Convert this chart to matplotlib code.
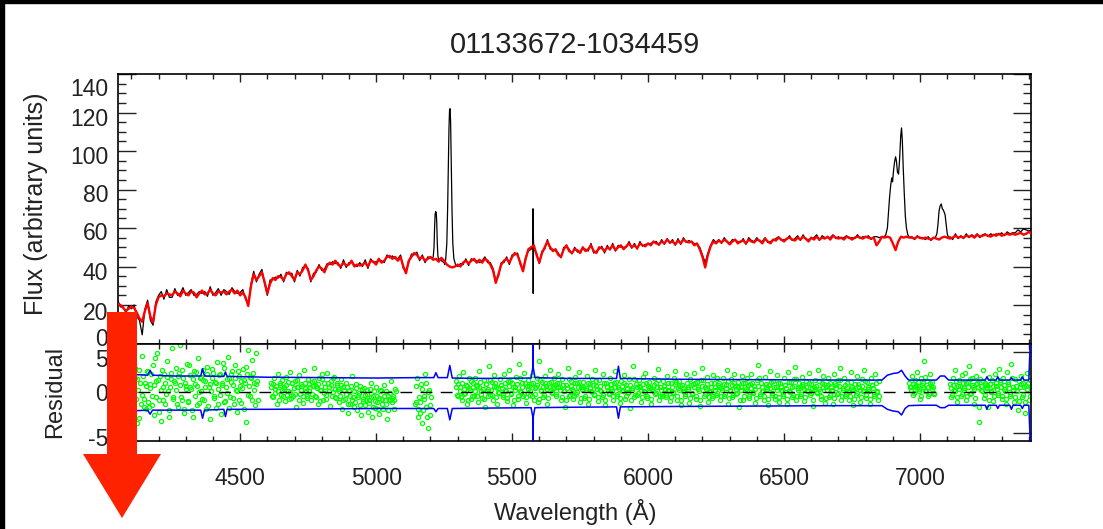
import numpy as np
import matplotlib
matplotlib.use('Agg')
import matplotlib.pyplot as plt
import matplotlib.transforms as mtransforms
from matplotlib.patches import Polygon, Rectangle
from matplotlib.ticker import MultipleLocator

plt.rcParams['font.family'] = ['Liberation Sans', 'DejaVu Sans']

na = np.nan
W, H = 1103, 529

# --- spectrum on a 10 A grid starting at 4050 A ---
wave_start, wave_step = 4050, 10
model_flux = [
    20.5, 20, 18.5, 17, 18, 19, 18.5, 16, 13, 11.3,
    17, 21, 14, 11, 20, 24, 25, 24.5, 26, 25.5,
    25, 27, 26, 24.5, 27.5, 26, 25, 27, 26.5, 24,
    26, 27.5, 25.5, 26, 28, 26, 25, 27, 26.5, 27,
    25.5, 27, 28, 26, 27.5, 25, 26.5, 24, 19.5, 30,
    36, 33, 35, 37, 32, 26, 31, 34, 33, 35,
    34.5, 33, 36, 37, 35, 33, 37, 36, 38, 41,
    38, 33, 35, 38, 40, 39, 37, 40.5, 42, 41,
    43, 41, 40, 42, 40.5, 41, 43, 40, 41, 40.5,
    41, 42, 40, 43, 42.5, 41, 44, 42, 43, 45,
    45.5, 44, 45, 43, 45, 40, 36.5, 43, 45, 47,
    46, 44, 45, 43, 44, 45, 43.5, 44, 42.5, 44.5,
    43, 41, 40, 39.5, 40, 41, 40, 42, 43, 41.5,
    43, 44, 42, 43.5, 42, 44, 43, 41, 38, 31.5,
    36, 41, 43, 44, 42, 45, 47, 46, 42, 37.5,
    44, 49, 50, 51, 46, 42, 47, 50, 53, 50,
    48, 49, 46, 45, 49, 51, 48, 47, 49, 48.5,
    47, 50, 48, 49, 51, 48, 47, 50, 49.5, 48,
    50, 49, 51, 48.5, 50, 51, 49, 50.5, 52, 50,
    51, 49.5, 52, 51, 50.5, 52, 51, 53, 52, 51.5,
    53, 52, 54, 52.5, 53, 51.5, 53.5, 52, 54, 53,
    52.5, 53, 51, 52, 49, 45, 39.5, 46, 50.5, 53,
    52, 53.5, 52.5, 54, 53, 51.5, 53, 54, 52, 53,
    53.5, 52, 54, 53, 52.5, 54, 53.5, 52, 54.5, 53,
    52, 54, 53.5, 55, 54, 53, 54.5, 55, 54, 53.5,
    55, 54, 55.5, 54.5, 53, 55, 54, 55.5, 54, 55,
    54.5, 55.5, 54, 56, 55, 54.5, 55, 54, 55.5, 55,
    54, 55, 55.5, 55, 54.5, 55.5, 55, 54.5, 55, 51,
    53, 55.5, 55, 55.5, 55, 52, 48.5, 53, 55.5, 55,
    55.5, 55, 55, 54.5, 55.5, 55, 54.5, 55, 54.5, 54,
    55, 54.5, 54, 55, 55.5, 55, 54.5, 55, 56, 55,
    55.5, 55, 56, 55.5, 56, 55, 56.5, 55.5, 56, 56.5,
    56, 55.5, 56.5, 56, 57, 56, 56.5, 57, 56.5, 57,
    56.5, 57, 57.5, 56.5, 57, 58, 57,
]
obs_flux = [
    22.5, 19, 19, 16, 19.5, 18, 20, 14, 12, 4.5,
    18, 22.5, 12, 9.5, 21.5, 25, 27, 23, 28, 24,
    24, 28.5, 25, 26, 29, 25, 26.5, 28, 25, 25.5,
    27, 26, 27, 24.5, 29.5, 25, 26.5, 28.5, 25, 28,
    27, 25.5, 29, 27, 26, 26.5, 28, 23, 20.5, 31,
    37.5, 32, 36, 38.5, 31, 25, 33, 33, 34.5, 34,
    36, 32, 37, 36, 36.5, 32, 38, 35, 39.5, 40,
    39, 32, 36.5, 37, 41, 38, 38.5, 41.5, 41, 42.5,
    41.5, 42, 39, 43.5, 39.5, 42, 42, 41, 40, 42,
    40, 43.5, 39, 44, 42, 42.5, 43, 43, 42, 46,
    44.5, 45.5, 44, 44, 46, 39, 37.5, 42, 46.5, 46,
    47.5, 43, 46, 42, 45, 44.5, 44, 45, 42, 43,
    42, 40, 41, 38.5, 41, 40, 41.5, 41, 44, 40.5,
    44, 43, 43, 42, 43, 45, 42, 42, 39, 32.5,
    35, 42, 42, 45, 41, 46, 46, 47, 41, 38,
    45, 48, 49, 50, 47, 41.5, 48, 49, 54, 49,
    49, 48, 47, 44.5, 50, 50, 49, 46.5, 50, 47.5,
    48, 49, 49, 48, 52, 47, 48, 49, 50.5, 47,
    51, 48.5, 52, 48, 51, 50, 50, 50, 53, 49.5,
    52, 49, 53, 50.5, 51.5, 51.5, 52, 52.5, 53, 51,
    54, 51.5, 54.5, 52, 54, 51, 54.5, 51.5, 55, 52.5,
    53.5, 52.5, 52, 51.5, 50, 46, 42, 47, 51, 54,
    52.5, 54, 52, 55, 53, 52, 54, 53.5, 53, 52.5,
    54.5, 51.5, 55, 53.5, 53, 55, 53, 53, 55, 52.5,
    53, 53.5, 54.5, 55.5, 53.5, 54, 54, 56, 53.5, 54.5,
    56, 53.5, 56.5, 54, 54, 54.5, 55, 56.5, 53.5, 56,
    55, 55, 55, 56.5, 54.5, 55.5, 54.5, 55, 56, 54.5,
    55, 54.5, 56.5, 54.5, 55.5, 55, 56, 54, 55.5, 55.5,
    55, 55.5, 56, 60, 85, 88, 97, 88, 110, 80,
    60, 56, 55.5, 54, 56, 54.5, 55, 54, 55.5, 53.5,
    55, 57, 69, 72, 67.5, 57, 55.5, 54, 57, 54.5,
    56, 54.5, 57, 55, 56.5, 55.5, 57, 55, 56.5, 57,
    55.5, 57, 56, 57, 56.5, 57.5, 56, 58, 57, 57.5,
    57.5, 59, 58, 59.5, 59, 58.5, 59,
]

# emission lines and the 5577 sky line, sampled finer (observed only)
line_waves = [
    [5206, 5210, 5213, 5215, 5217, 5219, 5221, 5223, 5225, 5227, 5230, 5234],
    [5252, 5256, 5260, 5263, 5266, 5268, 5270, 5272, 5274, 5276, 5279, 5282, 5286, 5292],
    [5576, 5577, 5577.6, 5578.3, 5580],
    [6866, 6874, 6880, 6884, 6888, 6892, 6896, 6899, 6902, 6906, 6910, 6913,
     6917, 6921, 6925, 6929, 6932, 6935, 6938, 6942, 6946, 6950, 6955, 6962],
    [7056, 7062, 7066, 7070, 7074, 7078, 7082, 7085, 7088, 7092, 7096, 7100, 7106],
]
line_fluxes = [
    [44, 45, 50, 60, 67, 68.5, 68, 63, 52, 46, 43, 44],
    [41, 44, 52, 70, 95, 112, 121, 122, 115, 98, 70, 52, 44, 41],
    [50, 70, 26, 55, 49],
    [55, 56.5, 60, 68, 76, 82, 86, 84, 89, 94, 97, 95,
     89, 88, 96, 108, 112, 105, 92, 78, 66, 60, 56.5, 55],
    [55, 57, 62, 69, 71.5, 72.5, 70, 69.5, 68.5, 67, 62, 57, 54.5],
]

# --- residuals (in units of 0.1) on two interleaved 5 A grids; nan = masked ---
resid_start, resid_step = 4060, 5
resid_tenths = [
    -30, 15, -45, 22, 5, -52, 30, -12, 8, 40, -25, 18, -38, 3, 27, -15, 45, -8, 12, -20,
    25, -18, 10, -5, 33, -28, 14, 48, -10, 20, -35, 6, 22, -14, 38, 2, -22, 16, 55, -6,
    12, 30, -18, 24, 58, -9, 17, -26, 8, 35, -12, 21, 4, -30, 26, 10, -16, 42, 0, 19,
    -8, 28, 14, -20, 31, 6, -33, 18, 24, -4, 11, 37, -15, 22, -27, 9, 30, -11, 16, 44,
    -19, 13, 26, -7, 34, 3, -24, 20, 8, -13, 29, 15, -36, 23, 52, -5, 18, 40, 11, -16,
    48, -10, *[na] * 9, 12, -6, 18, 4, -14, 22, 9, -3, 15,
    7, -11, 19, 2, -8, 25, 12, -4, 14, -18, 6, 21, -2, 10, -13, 27, 5, -7, 16, 1,
    -9, 13, 30, -5, 8, -15, 18, 3, 22, -10, 11, -3, 24, 6, -17, 14, 0, 19, -6, 9,
    4, -12, 16, -20, 7, -8, 12, -25, 2, -14, 20, -6, -18, 10, -22, -3, 8, -28, -11, 5,
    -16, 3, -24, -9, 12, -30, -5, -19, 6, -12, -27, 1, -8, -21, 9, -15, -33, -4, -10, 14,
    -7, -20, 4, *[na] * 14, -12, 18, -30,
    -25, 10, -38, -5, 22, -18, -44, 3, -28, *[na] * 11,
    *[na] * 7, 14, -4, 20, 6, -10, 25, -2, 9, -15, 17, 3, -8, 12,
    -5, 18, 8, -12, 26, 2, -7, 15, -18, 10, 4, 32, -3, 13, -10, 21, 7, -14, 0, 16,
    9, -6, 22, 3, -11, 14, 28, -2, 11, -16, 6, 19, -8, 35, 2, 12, -4, 24, -13, 8,
    15, -3, 10, 21, -9, 5, 17, -12, 38, 1, 13, -6, 20, 8, -15, 11, 27, -1, 7, 18,
    -4, 12, 23, 6, -10, 16, 2, -18, 9, 30, -5, 14, 4, -8, 19, -2, 11, 25, -12, 7,
    13, -7, 5, 20, -14, 10, 1, 16, -3, 28, 8, -11, 15, 3, -6, 22, -16, 12, 6, -2,
    18, 4, -9, 11, 26, -4, 7, -13, 14, 2, 21, -8, 9, -1, 16, -19, 5, 32, -6, 10,
    -3, 15, 6, -12, 19, 1, 24, -7, 8, 13, -15, 4, 17, -2, 11, 29, -10, 6, -5, 14,
    8, -6, 20, 3, -11, 12, -1, 18, 26, -9, 5, 14, -16, 9, 2, -4, 22, 7, -13, 16,
    -2, 10, 24, -8, 13, 4, -17, 15, 30, -5, 7, 19, -12, 1, 11, -7, 21, 6, -3, 17,
    12, -10, 5, 18, -4, 9, 27, -14, 3, 16, -6, 22, 8, -2, 13, -18, 6, 20, -9, 11,
    4, 17, -7, 10, 23, -1, 8, -13, 15, 34, -5, 12, 2, -10, 19, 7, -16, 9, 26, -3,
    14, -8, 6, 21, -12, 11, 3, -4, 18, 9, -15, 25, 1, 13, -6, 16, 31, -9, 5, 12,
    -5, 19, 8, -11, 14, 2, 24, -3, 10, -17, 7, 15, -1, 28, 4, -8, 12, 20, -13, 6,
    17, -6, 11, 3, -14, 22, 9, -2, 15, 30, -10, 5, 18, -4, 12, 1, -9, 25, 7, -16,
    10, -3, 20, 6, -12, 16, 2, 27, -7, 13, 4, -15, 18, 9, -5, 23, 1, -10, 14, na,
    *[na] * 20,
    12, 6, 20, -3, 15, 9, 25, 4, -8, 17, 11, 38, 2, 14, -5, 22, 8, 13, -2, na,
    *[na] * 10, 10, -6, 18, 3, 28, -12, 8, 15, -4, 21,
    5, 24, -9, 13, 32, -2, 17, 7, -14, 20, 11, -36, 16, 3, 27, -7, 12, 9, -18, 19,
    1, 15, -11, 22, 8, -3, 29, 13, -8, 18, 4, -15, 25, 10, -5, 35, 6, -12, 16, 2,
    -22, 14, 20, -6, 11, -25, 8, 24, -9, 15,
]
resid2_start = 4062.5
resid2_tenths = [
    10, -20, 35, -5, 18, -28, 2, 24, -14, 6, 30, -8, 16, -32, 12, -3, 20, -18, 8, 26,
    -12, 5, 22, -16, 9, 42, -6, 15, -24, 3, 28, -10, 12, -2, 19, -30, 7, 24, -8, 14,
    3, -15, 20, 9, -6, 27, -20, 11, 4, -11, 33, 6, -22, 16, -4, 25, 8, -13, 18, 1,
    15, -9, 6, 23, -17, 10, 2, 29, -7, 13, -19, 4, 21, -3, 12, 36, -12, 7, -1, 18,
    -6, 22, 9, -14, 17, 2, 26, -10, 14, 5, -21, 11, 31, -3, 8, 19, -9, 24, 3, 10,
    14, *[na] * 9, 6, -4, 10, -1, 8, 2, -9, 12, 3, -5,
    4, 9, -3, 13, 0, -7, 11, 5, -2, 15, 7, -10, 3, 8, -5, 12, 1, -4, 10, 6,
    -2, 8, 14, -6, 5, 10, -11, 3, 16, -1, 7, -8, 12, 2, 9, -4, 18, 4, -7, 11,
    1, -5, 9, -10, 3, -2, 6, -14, -4, 8, -9, 2, -12, 5, -6, -1, -16, 4, -8, -3,
    -9, -2, -13, 4, -6, -18, 1, -11, -4, -20, -7, 3, -14, -5, -10, 2, -22, -8, -1, -12,
    -4, -10, 2, *[na] * 13, -15, 8, -20, -6,
    -12, 4, -22, -8, 12, -30, 0, -16, -6, *[na] * 11,
    *[na] * 6, 6, -3, 10, 2, -6, 12, 4, -1, 8, -9, 5, 14, -4, 7,
    2, 9, -4, 6, 13, -2, 4, -8, 10, 1, -5, 15, 3, -3, 8, 11, -6, 5, -1, 9,
    5, -3, 11, 2, -7, 8, 14, -1, 6, -9, 3, 10, -4, 17, 0, 7, -2, 12, -6, 4,
    8, 1, -5, 12, -2, 6, 9, -8, 15, 3, 7, -3, 11, 4, -7, 6, 13, 0, 5, 9,
    -2, 7, 12, 3, -6, 9, 1, -10, 5, 16, -3, 8, 2, -4, 11, 0, 6, 13, -7, 4,
    7, -4, 3, 11, -8, 5, 0, 9, -2, 14, 4, -6, 8, 1, -3, 12, -9, 6, 3, -1,
    10, 2, -5, 6, 13, -2, 4, -7, 8, 1, 11, -4, 5, 0, 9, -10, 3, 16, -3, 6,
    -1, 8, 3, -6, 10, 0, 12, -4, 5, 7, -8, 2, 9, -1, 6, 15, -5, 3, -2, 8,
    4, -3, 11, 2, -6, 7, 0, 10, 13, -5, 3, 8, -9, 5, 1, -2, 12, 4, -7, 9,
    -1, 6, 12, -4, 7, 2, -9, 8, 15, -2, 4, 10, -6, 0, 6, -4, 11, 3, -1, 9,
    6, -5, 3, 10, -2, 5, 14, -7, 2, 9, -3, 12, 4, -1, 7, -9, 3, 11, -5, 6,
    2, 9, -4, 5, 12, 0, 4, -7, 8, 17, -2, 6, 1, -5, 10, 4, -8, 5, 13, -1,
    7, -4, 3, 11, -6, 6, 1, -2, 9, 5, -8, 13, 0, 7, -3, 8, 16, -5, 3, 6,
    -2, 10, 4, -6, 7, 1, 12, -1, 5, -9, 4, 8, 0, 14, 2, -4, 6, 10, -7, 3,
    9, -3, 6, 1, -7, 11, 5, -1, 8, 15, -5, 3, 9, -2, 6, 0, -5, 13, 4, -8,
    5, -1, 10, 3, -6, 8, 1, 14, -3, 7, 2, -8, 9, 5, -2, 12, 0, -5, na, na,
    *[na] * 20,
    6, 3, 10, -1, 8, 5, 13, 2, -4, 9, 6, 19, 1, 7, -2, 11, 4, 7, -1, na,
    *[na] * 10, 5, -3, 9, 2, 14, -6, 4, 8, -2, 11,
    3, 12, -4, 7, 16, -1, 9, 4, -7, 10, 6, -18, 8, 2, 14, -3, 6, 5, -9, 10,
    0, 8, -5, 11, 4, -1, 15, 7, -4, 9, 2, -8, 13, 5, -2, 18, 3, -6, 8, 1,
    -11, 7, 10, -3, 6, -12, 4, 12, -4, 8,
]

# 1-sigma error envelope
err_wave = [4051, 4100, 4160, 4169, 4178, 4250, 4355, 4362, 4369, 4440, 4446, 4452,
            4600, 4800, 5000, 5150, 5212, 5220, 5228, 5262, 5271, 5280, 5400, 5570,
            5576, 5577, 5578, 5584, 5700, 5884, 5891, 5898, 6100, 6400, 6700, 6860,
            6880, 6900, 6920, 6932, 6945, 6958, 7000, 7060, 7075, 7090, 7105, 7200,
            7240, 7246, 7252, 7280, 7286, 7292, 7330, 7336, 7342, 7370, 7376, 7382,
            7400, 7405]
err_hi = [2.2, 2.2, 2.1, 2.7, 2.1, 2.0, 2.0, 2.9, 2.0, 1.95, 2.5, 1.95,
          1.85, 1.8, 1.75, 1.8, 1.8, 2.4, 1.8, 1.8, 3.3, 1.75, 1.7, 1.75,
          3.0, 8.0, 3.0, 1.8, 1.7, 1.7, 3.2, 1.7, 1.6, 1.55, 1.5, 1.5,
          2.1, 2.3, 2.4, 2.7, 2.0, 1.5, 1.5, 1.5, 2.0, 2.0, 1.5, 1.5,
          1.5, 1.9, 1.5, 1.5, 1.9, 1.5, 1.5, 1.8, 1.5, 1.5, 1.9, 1.5,
          1.5, 6.0]
err_lo = [-2.3, -2.3, -2.2, -2.7, -2.2, -2.2, -2.2, -3.2, -2.2, -2.1, -3.0, -2.1,
          -2.1, -2.05, -2.0, -2.0, -2.0, -2.4, -2.0, -2.0, -3.4, -2.0, -1.95, -1.9,
          -3.0, -8.0, -3.0, -1.9, -1.85, -1.8, -3.2, -1.8, -1.75, -1.7, -1.65, -1.65,
          -2.1, -2.3, -2.4, -2.8, -2.0, -1.65, -1.6, -1.6, -1.9, -1.9, -1.6, -1.6,
          -1.6, -2.1, -1.6, -1.6, -2.0, -1.6, -1.6, -2.1, -1.6, -1.6, -2.0, -1.6,
          -1.6, -6.0]

flux_ticks = [0, 20, 40, 60, 80, 100, 120, 140]
resid_ticks = [-5, 0, 5]

# ---------------------------------------------------------------------------
wave = wave_start + wave_step * np.arange(len(model_flux))
obs_w = wave.astype(float)
obs_f = np.array(obs_flux, dtype=float)
for lw_, lf_ in zip(line_waves, line_fluxes):
    keep = (obs_w < min(lw_)) | (obs_w > max(lw_))
    obs_w = np.concatenate([obs_w[keep], lw_])
    obs_f = np.concatenate([obs_f[keep], lf_])
order = np.argsort(obs_w)
obs_w, obs_f = obs_w[order], obs_f[order]

resid = np.array(resid_tenths, dtype=float) / 10.0
resid_wave = resid_start + resid_step * np.arange(len(resid))
resid2 = np.array(resid2_tenths, dtype=float) / 10.0
resid2_wave = resid2_start + resid_step * np.arange(len(resid2))


def px_axes(x0, y0, x1, y1):
    return [x0 / W, 1 - y1 / H, (x1 - x0) / W, (y1 - y0) / H]


fig = plt.figure(figsize=(W / 100, H / 100), dpi=100)
ax1 = fig.add_axes(px_axes(118, 74, 1031, 343.5))
ax2 = fig.add_axes(px_axes(118, 343.5, 1031, 441), sharex=ax1)

ax1.plot(obs_w, obs_f, color='black', lw=0.9, zorder=2)
ax1.plot(wave, model_flux, color='#ff0000', lw=1.7, zorder=3)
ax1.set_xlim(4051, 7408)
ax1.set_ylim(0, 140)
ax1.text(963, 104, '(a)', transform=None, fontsize=16, color='#444444',
         ha='center', va='center')

for rw, rv in ((resid_wave, resid), (resid2_wave, resid2)):
    ax2.plot(rw, rv, 'o', mfc='none', mec='#00ff00', ms=3.0, mew=0.9, zorder=2)
ax2.axhline(0, color='black', lw=1.0, dashes=(8.5, 6), zorder=3)
ax2.plot(err_wave, err_hi, color='#0000ff', lw=1.1, zorder=4)
ax2.plot(err_wave, err_lo, color='#0000ff', lw=1.1, zorder=4)
ax2.set_ylim(-6, 6)
ax2.set_yticks(resid_ticks)
ax2.set_yticklabels([str(t) for t in resid_ticks])

ax1.xaxis.set_major_locator(MultipleLocator(500))
ax1.xaxis.set_minor_locator(MultipleLocator(100))
ax1.set_yticks(flux_ticks)
ax1.set_yticklabels([str(t) for t in flux_ticks])
ax1.yaxis.set_minor_locator(MultipleLocator(5))

for ax in (ax1, ax2):
    for sp in ax.spines.values():
        sp.set_linewidth(1.2)
    ax.tick_params(which='both', direction='in', top=True, right=True,
                   width=1.0, labelsize=16.5, colors='#222222')
    ax.tick_params(axis='y', which='major', length=13, pad=7)
    ax.tick_params(axis='y', which='minor', length=6)
    ax.tick_params(axis='x', which='major', length=6, pad=19)
    ax.tick_params(axis='x', which='minor', length=3.5)
ax1.tick_params(labelbottom=False)

# IDL-style labels: nudged below their ticks, end labels pulled inside
label_drop = {ax1: {0: -6, 20: 6, 40: 5, 60: 3, 80: 3, 100: 4, 120: 5, 140: 13},
              ax2: {-5: 4, 0: 0, 5: 6.5}}
for ax, drops in label_drop.items():
    for tick in ax.yaxis.get_major_ticks():
        d = drops.get(int(round(tick.get_loc())), 0)
        off = mtransforms.ScaledTranslation(0, -d / 100, fig.dpi_scale_trans)
        tick.label1.set_transform(tick.label1.get_transform() + off)

fig.text(575 / W, 1 - 45 / H, '01133672-1034459', fontsize=21, color='#222222',
         ha='center', va='center')
fig.text(36 / W, 1 - 204 / H, 'Flux (arbitrary units)', fontsize=18, color='#222222',
         rotation=90, ha='center', va='center')
fig.text(55 / W, 1 - 392 / H, 'Residual', fontsize=17, color='#222222',
         rotation=90, ha='center', va='center')
fig.text(575 / W, 1 - 512 / H, 'Wavelength (Å)', fontsize=17, color='#222222',
         ha='center', va='center')

# frame edges of the page
fig.add_artist(Rectangle((0, 0), 3.5 / W, 1, transform=fig.transFigure,
                         color='black', zorder=20))
fig.add_artist(Rectangle((0, 1 - 3 / H), 1, 3 / H, transform=fig.transFigure,
                         color='black', zorder=20))

# big red arrow pointing down at the wavelength axis
arrow_px = [(107, 312), (137, 312), (137, 454), (161, 454), (122, 518),
            (83, 454), (107, 454)]
fig.add_artist(Polygon([(x / W, 1 - y / H) for x, y in arrow_px], closed=True,
                       transform=fig.transFigure, facecolor='#ff2200',
                       edgecolor='none', zorder=30))

fig.savefig('out.png', dpi=100)
